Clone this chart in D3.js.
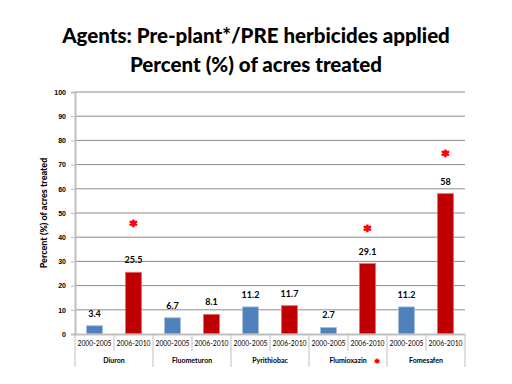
<!DOCTYPE html>
<meta charset="utf-8">
<style>
body { margin: 0; background: #fff; }
svg { font-family: Lato, "Open Sans", sans-serif; }
.title { font-size: 20.5px; font-weight: 900; }
.tick text { font-size: 7px; font-weight: bold; }
.val { font-size: 9px; font-weight: bold; }
.yr { font-size: 6.8px; }
.cat { font-size: 7px; font-weight: bold; }
.star { fill: #ff0000; stroke: #ff0000; font-family: "DejaVu Sans"; font-weight: bold; }
</style>
<body>
<script src="https://cdn.jsdelivr.net/npm/d3@7"></script>
<script>
var agents = ["Diuron", "Fluometuron", "Pyrithiobac", "Flumioxazin", "Fomesafen"];
var periods = ["2000-2005", "2006-2010"];
var early = [3.4, 6.7, 11.2, 2.7, 11.2];
var late = [25.5, 8.1, 11.7, 29.1, 58];
var stars = [46, null, null, 44, 75];
var yTicks = [0, 10, 20, 30, 40, 50, 60, 70, 80, 90, 100];

var w = 512, h = 384,
    plotLeft = 75, plotRight = 465, plotTop = 92, plotBottom = 334;

var svg = d3.select("body").append("svg")
    .attr("width", w)
    .attr("height", h);

/* title */
svg.append("text").attr("class", "title")
    .attr("x", 256).attr("y", 43).attr("text-anchor", "middle")
    .text("Agents: Pre-plant*/PRE herbicides applied");
svg.append("text").attr("class", "title")
    .attr("x", 256).attr("y", 72).attr("text-anchor", "middle")
    .text("Percent (%) of acres treated");

var y = d3.scaleLinear().domain([0, 100]).range([plotBottom, plotTop]);
var xg = d3.scaleBand().domain(agents).range([plotLeft, plotRight]);
var xp = d3.scaleBand().domain(periods).range([0, xg.bandwidth()]).paddingInner(0.59).paddingOuter(0.295);

/* gridlines */
svg.append("g").selectAll("line")
    .data(yTicks.slice(1))
  .enter().append("line")
    .attr("x1", plotLeft).attr("x2", plotRight)
    .attr("y1", function(d) { return y(d); })
    .attr("y2", function(d) { return y(d); })
    .attr("stroke", "#8c8c8c").attr("stroke-width", 1);

/* y axis */
var yAxis = svg.append("g")
    .attr("transform", "translate(" + plotLeft + ",0)")
    .call(d3.axisLeft(y).tickValues(yTicks).tickSize(4).tickPadding(5));
yAxis.select(".domain").attr("stroke", "#bfbfbf").attr("stroke-width", 2);
yAxis.selectAll(".tick line").attr("stroke", "#bfbfbf");

svg.append("text")
    .attr("transform", "translate(47," + ((plotTop + plotBottom) / 2) + ") rotate(-90)")
    .attr("text-anchor", "middle")
    .attr("font-size", 9).attr("font-weight", 900)
    .text("Percent (%) of acres treated");

/* bars */
var groups = svg.selectAll("g.grp")
    .data(agents)
  .enter().append("g")
    .attr("class", "grp")
    .attr("transform", function(d) { return "translate(" + xg(d) + ",0)"; });

function rows(i) {
  return [{p: periods[0], v: early[i], c: "#4f81bd", e: "#a7c0de"},
          {p: periods[1], v: late[i], c: "#c00000", e: "#e07070"}];
}

groups.selectAll("rect")
    .data(function(d, i) { return rows(i); })
  .enter().append("rect")
    .attr("x", function(d) { return xp(d.p); })
    .attr("width", xp.bandwidth())
    .attr("y", function(d) { return y(d.v); })
    .attr("height", function(d) { return plotBottom - y(d.v); })
    .attr("fill", function(d) { return d.c; })
    .attr("stroke", function(d) { return d.e; })
    .attr("stroke-width", 0.8);

groups.selectAll("text.val")
    .data(function(d, i) { return rows(i); })
  .enter().append("text")
    .attr("class", "val")
    .attr("x", function(d) { return xp(d.p) + xp.bandwidth() / 2; })
    .attr("y", function(d) { return y(d.v) - 9; })
    .attr("text-anchor", "middle")
    .text(function(d) { return d.v; });

/* stars */
groups.filter(function(d, i) { return stars[i] != null; })
  .append("text")
    .attr("class", "star")
    .attr("x", xp(periods[1]) + xp.bandwidth() / 2)
    .attr("y", function(d) { return y(stars[agents.indexOf(d)]) + 7; })
    .attr("text-anchor", "middle")
    .attr("font-size", 14).attr("stroke-width", 1.2)
    .text("*");

/* category axis */
svg.append("line")
    .attr("x1", plotLeft).attr("x2", plotRight)
    .attr("y1", plotBottom + 0.5).attr("y2", plotBottom + 0.5)
    .attr("stroke", "#bfbfbf").attr("stroke-width", 2);

var edges = agents.map(function(a) { return xg(a); }).concat([plotRight]);
svg.append("g").selectAll("line")
    .data(edges)
  .enter().append("line")
    .attr("x1", function(d) { return d; }).attr("x2", function(d) { return d; })
    .attr("y1", plotBottom).attr("y2", 367)
    .attr("stroke", "#bfbfbf").attr("stroke-width", 1);

groups.append("line")
    .attr("x1", xg.bandwidth() / 2).attr("x2", xg.bandwidth() / 2)
    .attr("y1", plotBottom).attr("y2", 351)
    .attr("stroke", "#bfbfbf").attr("stroke-width", 1);

groups.selectAll("text.yr")
    .data(periods)
  .enter().append("text")
    .attr("class", "yr")
    .attr("x", function(d) { return xp(d) + xp.bandwidth() / 2; })
    .attr("y", 346)
    .attr("text-anchor", "middle")
    .text(function(d) { return d; });

groups.append("text")
    .attr("class", "cat")
    .attr("x", xg.bandwidth() / 2)
    .attr("y", 363)
    .attr("text-anchor", "middle")
    .text(function(d) { return d; });

/* legend star next to Flumioxazin */
svg.append("text")
    .attr("class", "star")
    .attr("x", 377).attr("y", 366)
    .attr("text-anchor", "middle")
    .attr("font-size", 9).attr("stroke-width", 0.8)
    .text("*");
</script>
</body>
